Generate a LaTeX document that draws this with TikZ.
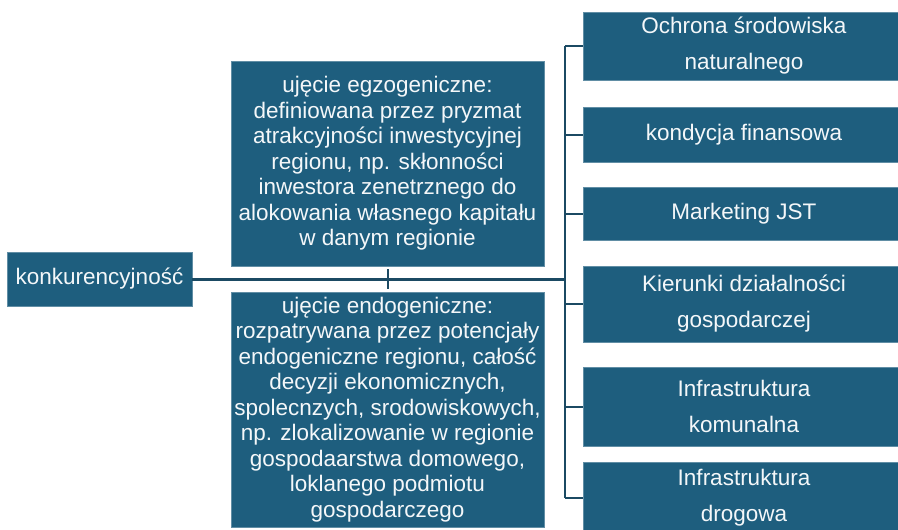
\documentclass[tikz,border=0pt]{standalone}
\usepackage{fontspec}
\setmainfont{Liberation Sans}
\usetikzlibrary{calc, positioning}
\definecolor{boxblue}{RGB}{30,94,126}
\definecolor{lineblue}{RGB}{27,74,99}

\begin{document}
\begin{tikzpicture}[x=1pt, y=-1pt, blk/.style={fill=boxblue, draw=boxblue!70!white, line width=.6pt, text=white!95!boxblue, inner sep=0pt, align=center, font=\fontsize{22.5}{25.5}\selectfont},rblk/.style={blk, minimum width=322pt, font=\fontsize{22.5}{36}\selectfont},link/.style={draw=lineblue, line width=3pt},tick/.style={draw=lineblue, line width=2pt}]
  \useasboundingbox (0,0) rectangle (898,530);
  \clip (0,0) rectangle (898,530);

  \node[blk, minimum width=185pt, minimum height=54pt] (k) at (99.5,279) {konkurencyjność};

  \node[blk, minimum width=313pt, minimum height=205pt] (e1) at (387.5,163.5) {ujęcie egzogeniczne:\\definiowana przez pryzmat\\atrakcyjności inwestycyjnej\\regionu, np. skłonności\\inwestora zenetrznego do\\alokowania własnego kapitału\\w danym regionie};
  \node[blk, minimum width=313pt, minimum height=235pt] (e2) at (387.5,409.5) {ujęcie endogeniczne:\\rozpatrywana przez potencjały\\endogeniczne regionu, całość\\decyzji ekonomicznych,\\spolecnzych, srodowiskowych,\\np. zlokalizowanie w regionie\\gospodaarstwa domowego,\\loklanego podmiotu\\gospodarczego};

  \node[rblk, minimum height=68pt] (r1) at (744,46) {Ochrona środowiska\\naturalnego};
  \node[rblk, minimum height=55pt] (r2) at (744,134.5) {kondycja finansowa};
  \node[rblk, minimum height=53pt] (r3) at (744,213.5) {Marketing JST};
  \node[rblk, minimum height=76pt] (r4) at (744,304) {Kierunki działalności\\gospodarczej};
  \node[rblk, minimum height=79pt] (r5) at (744,406.5) {Infrastruktura\\komunalna};
  \node[rblk, minimum height=72pt] (r6) at (744,498) {Infrastruktura\\drogowa};

  \coordinate (bus) at (565,279);

  \draw[link] (k.east) -- (bus);
  \draw[tick, shorten <= 3pt, shorten >= 3pt] (e1.south) -- (e2.south |- e2.north);
  \draw[tick] (r1.west -| bus) -- (r6.west -| bus);
  \foreach \r in {r1,r2,r3,r4,r5,r6}
    \draw[tick] (\r.west -| bus) -- (\r.west);
\end{tikzpicture}
\end{document}
